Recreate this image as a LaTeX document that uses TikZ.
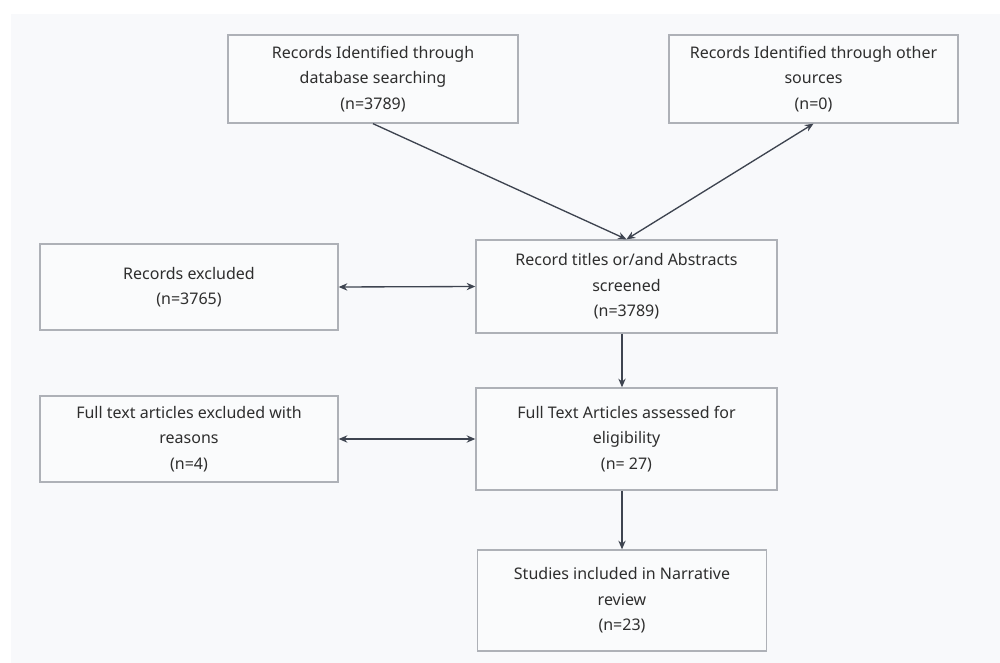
\documentclass[tikz,border=0pt]{standalone}
\usepackage{fontspec}
\setmainfont{Noto Sans}
\usetikzlibrary{arrows.meta}

\definecolor{bggray}{HTML}{F8F9FB}
\definecolor{boxfill}{HTML}{FAFBFC}
\definecolor{boxline}{HTML}{AEB1B7}
\definecolor{linecol}{HTML}{3E4450}
\definecolor{textcol}{HTML}{2E2E2E}

\tikzset{
  flowbox/.style={draw=boxline, fill=boxfill, line width=1pt, align=center,
    text=textcol, font=\fontsize{12}{19}\selectfont, inner sep=0pt},
  flow/.style={draw=linecol, line width=1pt, -{Stealth[length=6.5pt,width=5.5pt]}},
  twoway/.style={draw=linecol, line width=1pt, {Stealth[length=6.5pt,width=5.5pt]}-{Stealth[length=6.5pt,width=5.5pt]}}
}

\begin{document}
\begin{tikzpicture}[x=0.75pt, y=-0.75pt]
    \useasboundingbox (0,0) rectangle (1000,663);
    \fill[bggray] (11,14) rectangle (1000,663);

    \node[flowbox, minimum width=290*0.75pt, minimum height=88*0.75pt] (dbsearch) at (373,79) {Records Identified through\\database searching\\(n=3789)};
    \node[flowbox, minimum width=289*0.75pt, minimum height=88*0.75pt] (othersrc) at (813.5,79) {Records Identified through other\\sources\\(n=0)};
    \node[flowbox, minimum width=301*0.75pt, minimum height=93*0.75pt] (screened) at (626.5,286.5) {Record titles or/and Abstracts\\screened\\(n=3789)};
    \node[flowbox, minimum width=298*0.75pt, minimum height=86*0.75pt] (excluded) at (189,287) {Records excluded\\(n=3765)};
    \node[flowbox, minimum width=301*0.75pt, minimum height=102*0.75pt] (fulltext) at (626.5,439) {Full Text Articles assessed for\\eligibility\\(n= 27)};
    \node[flowbox, minimum width=298*0.75pt, minimum height=86*0.75pt] (fullexcl) at (189,439) {Full text articles excluded with\\reasons\\(n=4)};
    \node[flowbox, minimum width=289*0.75pt, minimum height=101*0.75pt] (included) at (622,600.5) {Studies included in Narrative\\review\\(n=23)};

    \draw[flow] (dbsearch.south) -- (screened.north);
    \draw[twoway] (othersrc.south) -- (screened.north);
    \draw[twoway] (excluded.east) -- (screened.west);
    \draw[flow] (screened.south -| included.north) -- (fulltext.north -| included.north);
    \draw[twoway] (fullexcl.east) -- (fulltext.west);
    \draw[flow] (fulltext.south -| included.north) -- (included.north);
\end{tikzpicture}
\end{document}
